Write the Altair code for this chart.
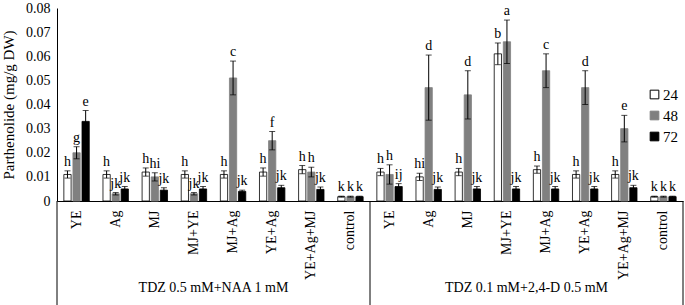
import altair as alt
import pandas as pd

categories = ["YE", "Ag", "MJ", "MJ+YE", "MJ+Ag", "YE+Ag", "YE+Ag+MJ", "control"]
groups = ["TDZ 0.5 mM+NAA 1 mM", "TDZ 0.1 mM+2,4-D 0.5 mM"]
series = ["24", "48", "72"]

# group 1 : TDZ 0.5 mM + NAA 1 mM
g1_24 = [0.011, 0.011, 0.012, 0.011, 0.011, 0.012, 0.013, 0.0018]
g1_48 = [0.020, 0.003, 0.010, 0.003, 0.051, 0.025, 0.012, 0.0018]
g1_72 = [0.033, 0.005, 0.0045, 0.005, 0.004, 0.0055, 0.0048, 0.0018]
g1_24_err = [0.0015, 0.0015, 0.0017, 0.0015, 0.0015, 0.0017, 0.0017, 0.0002]
g1_48_err = [0.0025, 0.0005, 0.0017, 0.0005, 0.007, 0.0038, 0.002, 0.0002]
g1_72_err = [0.0045, 0.001, 0.001, 0.001, 0.0005, 0.001, 0.001, 0.0002]
g1_24_lab = ["h", "h", "h", "h", "h", "h", "h", "k"]
g1_48_lab = ["g", "jk", "hi", "jk", "c", "f", "h", "k"]
g1_72_lab = ["e", "jk", "jk", "jk", "jk", "jk", "jk", "k"]

# group 2 : TDZ 0.1 mM + 2,4-D 0.5 mM
g2_24 = [0.012, 0.010, 0.012, 0.061, 0.013, 0.011, 0.011, 0.0018]
g2_48 = [0.011, 0.047, 0.044, 0.066, 0.054, 0.047, 0.030, 0.0018]
g2_72 = [0.006, 0.0048, 0.005, 0.005, 0.005, 0.005, 0.0055, 0.0018]
g2_24_err = [0.0015, 0.0015, 0.0015, 0.0045, 0.0015, 0.0015, 0.0015, 0.0002]
g2_48_err = [0.004, 0.0135, 0.010, 0.009, 0.007, 0.007, 0.0055, 0.0002]
g2_72_err = [0.0012, 0.001, 0.001, 0.001, 0.001, 0.001, 0.001, 0.0002]
g2_24_lab = ["h", "hi", "h", "b", "h", "h", "h", "k"]
g2_48_lab = ["h", "d", "d", "a", "c", "d", "e", "k"]
g2_72_lab = ["ij", "jk", "jk", "jk", "jk", "jk", "jk", "k"]

y_ticks = [0, 0.01, 0.02, 0.03, 0.04, 0.05, 0.06, 0.07, 0.08]

vals = {(0, "24"): g1_24, (0, "48"): g1_48, (0, "72"): g1_72,
        (1, "24"): g2_24, (1, "48"): g2_48, (1, "72"): g2_72}
errs = {(0, "24"): g1_24_err, (0, "48"): g1_48_err, (0, "72"): g1_72_err,
        (1, "24"): g2_24_err, (1, "48"): g2_48_err, (1, "72"): g2_72_err}
labs = {(0, "24"): g1_24_lab, (0, "48"): g1_48_lab, (0, "72"): g1_72_lab,
        (1, "24"): g2_24_lab, (1, "48"): g2_48_lab, (1, "72"): g2_72_lab}

rows = []
keys = []
for gi in range(2):
    for ci, c in enumerate(categories):
        key = f"{gi}|{c}"
        keys.append(key)
        for s in series:
            v = vals[(gi, s)][ci]
            e = errs[(gi, s)][ci]
            rows.append({"key": key, "series": s, "val": v,
                         "lo": v - e, "hi": v + e, "lab": labs[(gi, s)][ci]})
df = pd.DataFrame(rows)

W, H = 626, 193
FONT = "Liberation Serif"

x = alt.X("key:N", sort=keys, title=None,
          scale=alt.Scale(paddingInner=0.35, paddingOuter=0.175),
          axis=alt.Axis(labelExpr="split(datum.label, '|')[1]", labelAngle=-90,
                        labelFont=FONT, labelFontSize=14, labelColor="black",
                        labelPadding=9, ticks=False, domainColor="black",
                        domainWidth=1, labelOverlap=False))
xo = alt.XOffset("series:N", sort=series, scale=alt.Scale(paddingInner=0.2))

y_scale = alt.Scale(domain=[0, 0.08], nice=False)
y_axis = alt.Axis(values=y_ticks,
                  labelExpr="datum.value == 0 ? '0' : format(datum.value, '.2f')",
                  ticks=False, grid=False, labelPadding=7, labelOverlap=False,
                  labelFont=FONT, labelFontSize=14, labelColor="black",
                  titleFont=FONT, titleFontSize=15, titleFontWeight="normal",
                  titleColor="black", titlePadding=9,
                  domainColor="black", domainWidth=1)
TITLE = "Parthenolide (mg/g DW)"


def Y(field):
    return alt.Y(field, title=TITLE, scale=y_scale, axis=y_axis)


base = alt.Chart(df)

bars = base.mark_bar(strokeWidth=0.8).encode(
    x=x, xOffset=xo, y=Y("val:Q"),
    fill=alt.Fill("series:N", sort=series,
                  scale=alt.Scale(domain=series, range=["white", "#808080", "black"]),
                  legend=alt.Legend(title=None, orient="none", legendX=590, legendY=79,
                                    symbolType="square", symbolSize=75,
                                    symbolStrokeWidth=1, labelFont=FONT,
                                    labelFontSize=15, labelColor="black",
                                    rowPadding=5, labelOffset=1)),
    stroke=alt.Stroke("series:N", sort=series,
                      scale=alt.Scale(domain=series, range=["black", "#808080", "black"]),
                      legend=None),
)

err = base.mark_rule(color="black", strokeWidth=1).encode(
    x=x, xOffset=xo, y=Y("lo:Q"), y2="hi:Q")
cap_hi = base.mark_tick(color="black", size=6, thickness=1).encode(
    x=x, xOffset=xo, y=Y("hi:Q"))
cap_lo = base.mark_tick(color="black", size=6, thickness=1).encode(
    x=x, xOffset=xo, y=Y("lo:Q"))
letters = base.mark_text(font=FONT, fontSize=14, color="black",
                         baseline="bottom", dy=-2).encode(
    x=x, xOffset=xo, y=Y("hi:Q"), text="lab:N")

div_df = pd.DataFrame({"d": [0]})
div_left = alt.Chart(div_df).mark_rule(color="black", strokeWidth=1).encode(
    x=alt.value(0), y=alt.value(H), y2=alt.value(H + 104))
div_mid = alt.Chart(div_df).mark_rule(color="black", strokeWidth=1).encode(
    x=alt.value(W / 2), y=alt.value(H), y2=alt.value(H + 104))
div_right = alt.Chart(div_df).mark_rule(color="black", strokeWidth=1).encode(
    x=alt.value(W), y=alt.value(H), y2=alt.value(H + 104))

g_df1 = pd.DataFrame({"g": [groups[0]]})
g_df2 = pd.DataFrame({"g": [groups[1]]})
glab1 = alt.Chart(g_df1).mark_text(font=FONT, fontSize=14, color="black",
                                   baseline="alphabetic").encode(
    x=alt.value(W / 4), y=alt.value(284), text="g:N")
glab2 = alt.Chart(g_df2).mark_text(font=FONT, fontSize=14, color="black",
                                   baseline="alphabetic").encode(
    x=alt.value(3 * W / 4), y=alt.value(284), text="g:N")

chart = alt.layer(bars, err, cap_hi, cap_lo, letters,
                  div_left, div_mid, div_right, glab1, glab2).properties(
    width=W, height=H,
    padding={"left": 57, "top": 8, "right": 2, "bottom": 104},
    autosize=alt.AutoSizeParams(type="none"),
    background="white",
).configure_view(stroke=None)

chart.save("out.html", embed_options={"renderer": "svg", "actions": False})
